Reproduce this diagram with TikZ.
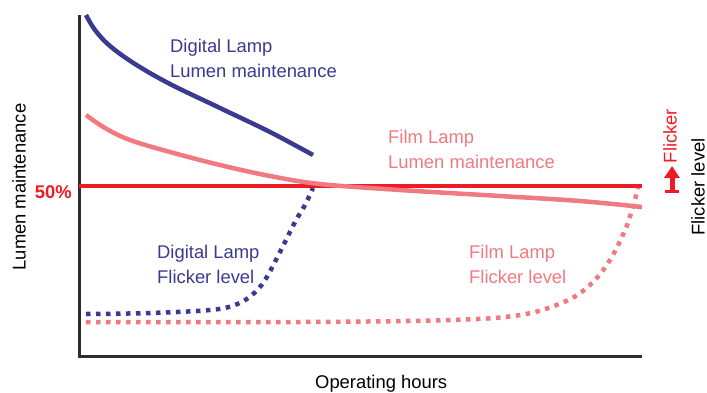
\documentclass[tikz,border=0pt]{standalone}
\usepackage{fontspec}
\setmainfont{Liberation Sans}
\usetikzlibrary{arrows.meta}
\definecolor{digiblue}{RGB}{58,58,145}
\definecolor{filmpink}{RGB}{240,122,128}
\definecolor{halfred}{RGB}{237,28,36}
\definecolor{axisgray}{RGB}{45,45,45}

\begin{document}
\begin{tikzpicture}[x=1pt,y=-1pt,
    every node/.style={inner sep=0pt,font=\fontsize{18.4}{25}\selectfont},
    axisline/.style={line width=3pt,axisgray},
    lumen/.style={line width=4.5pt},
    flicker/.style={line width=4.5pt,dash pattern=on 4.5pt off 5.5pt},
    lbl/.style={align=left,anchor=west}]
\useasboundingbox (0,0) rectangle (707,392);

% axes
\coordinate (top) at (79,15);
\coordinate (origin) at (79,356);
\coordinate (xend) at (642,356);
\draw[axisline] (top) -- (origin) -- (xend);

% 50% line
\coordinate (halfL) at (79,186);
\coordinate (halfR) at (642,186);
\draw[line width=4.5pt,halfred] (halfL) -- (halfR);

% lumen curves
\draw[lumen,filmpink] plot[smooth,tension=0.6] coordinates {(86,115) (105,128) (130,140) (170,152) (220,165) (270,176) (320,184) (400,190) (500,196) (580,201) (642,207)};
\draw[lumen,digiblue] plot[smooth,tension=0.6] coordinates {(86,15) (95,30) (110,46) (135,64) (170,84) (220,108) (270,132) (313,155)};

% flicker curves
\draw[flicker,filmpink] plot[smooth,tension=0.6] coordinates {(86,322) (300,322) (450,320) (520,315) (564,302) (590,285) (610,260) (625,230) (632,210) (638,188)};
\draw[flicker,digiblue] plot[smooth,tension=0.6] coordinates {(86,314) (150,313) (210,310) (235,305) (252,295) (265,280) (280,252) (295,222) (305,205) (313,188)};

% labels
\node[lbl,digiblue] (digilumen) at (170,58) {Digital Lamp\\Lumen maintenance};
\node[lbl,filmpink] (filmlumen) at (388,149) {Film Lamp\\Lumen maintenance};
\node[lbl,digiblue] (digiflick) at (157,264) {Digital Lamp\\Flicker level};
\node[lbl,filmpink] (filmflick) at (469,264) {Film Lamp\\Flicker level};

\node[anchor=base west] (xlabel) at (315,388) {Operating hours};
\node[rotate=90] (ylabel) at (19,187) {Lumen maintenance};
\node[anchor=east,halfred,font=\fontsize{18.4}{25}\selectfont\bfseries] (half) at (72,192) {50\%};

% flicker direction
\coordinate (fbase) at (672,193);
\coordinate (ftip) at (672,166);
\draw[line width=5pt,halfred,{Bar[width=14pt,line width=3.5pt]}-{Triangle[width=15pt,length=12pt]}] (fbase) -- (ftip);
\node[rotate=90,halfred] (flickup) at (670,136) {Flicker};
\node[rotate=90] (flicklevel) at (698,187) {Flicker level};
\end{tikzpicture}
\end{document}
